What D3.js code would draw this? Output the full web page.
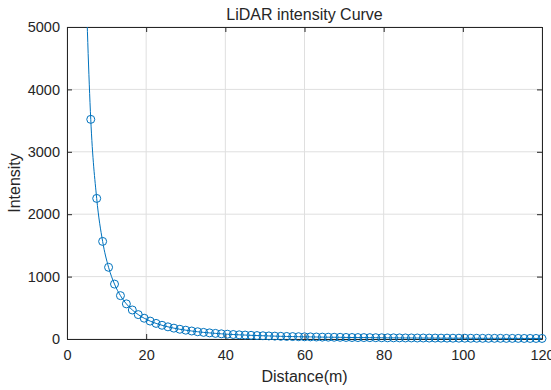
<!DOCTYPE html>
<html>
<head>
<meta charset="utf-8">
<script src="https://cdn.jsdelivr.net/npm/d3@7"></script>
<style>
  body { margin: 0; background: #fff; }
  text { font-family: 'Liberation Sans', Arial, sans-serif; fill: #262626; }
</style>
</head>
<body>
<div id="chart"></div>
<script>
// sample points (m) and intensity
const distances = [6, 7.5, 9, 10.5, 12, 13.5, 15, 16.5, 18, 19.5, 21, 22.5, 24, 25.5, 27, 28.5,
  30, 31.5, 33, 34.5, 36, 37.5, 39, 40.5, 42, 43.5, 45, 46.5, 48, 49.5, 51, 52.5, 54, 55.5,
  57, 58.5, 60, 61.5, 63, 64.5, 66, 67.5, 69, 70.5, 72, 73.5, 75, 76.5, 78, 79.5, 81, 82.5,
  84, 85.5, 87, 88.5, 90, 91.5, 93, 94.5, 96, 97.5, 99, 100.5, 102, 103.5, 105, 106.5, 108,
  109.5, 111, 112.5, 114, 115.5, 117, 118.5, 120]
const intensity = [3520, 2253, 1564, 1149, 880, 695, 563, 465, 391, 333, 287, 250, 220, 195,
  174, 156, 141, 128, 116, 106, 98, 90, 83, 77, 72, 67, 63, 59, 55, 52, 49, 46, 43, 41, 39,
  37, 35, 34, 32, 30, 29, 28, 27, 25, 24, 23, 23, 22, 21, 20, 19, 19, 18, 17, 17, 16, 16,
  15, 15, 14, 14, 13, 13, 13, 12, 12, 11, 11, 11, 11, 10, 10, 10, 9, 9, 9, 9]

// the curve starts above the top of the axes
const leadDistance = [4.5]
const leadIntensity = [6258]

const xTicks = [0, 20, 40, 60, 80, 100, 120]
const yTicks = [0, 1000, 2000, 3000, 4000, 5000]

const margin = { top: 27, right: 9, bottom: 51, left: 67 }
const width = 551 - margin.left - margin.right
const height = 390 - margin.top - margin.bottom

const svg = d3.select('#chart')
  .append('svg')
  .attr('width', 551)
  .attr('height', 390)

const g = svg.append('g')
  .attr('transform', 'translate(' + margin.left + ',' + margin.top + ')')

const x = d3.scaleLinear().domain([0, 120]).range([0, width])
const y = d3.scaleLinear().domain([0, 5000]).range([height, 0])

// grid
g.append('g')
  .selectAll('line')
  .data(xTicks)
  .enter()
  .append('line')
  .attr('x1', d => x(d)).attr('x2', d => x(d))
  .attr('y1', 0).attr('y2', height)
  .attr('stroke', '#dfdfdf')

g.append('g')
  .selectAll('line')
  .data(yTicks)
  .enter()
  .append('line')
  .attr('y1', d => y(d)).attr('y2', d => y(d))
  .attr('x1', 0).attr('x2', width)
  .attr('stroke', '#dfdfdf')

// axes, ticks pointing inward on all four sides
const tickLen = 5
const axisStyle = sel => {
  sel.select('.domain').attr('stroke', '#262626')
  sel.selectAll('.tick line').attr('stroke', '#262626')
  sel.selectAll('.tick text')
    .style('font-family', "'Liberation Sans', Arial, sans-serif")
    .style('font-size', '14.5px')
    .attr('fill', '#262626')
}

g.append('g')
  .attr('transform', 'translate(0,' + height + ')')
  .call(d3.axisBottom(x).tickValues(xTicks).tickSize(-tickLen).tickSizeOuter(0).tickPadding(11))
  .call(axisStyle)

g.append('g')
  .call(d3.axisLeft(y).tickValues(yTicks).tickFormat(d3.format('d'))
    .tickSize(-tickLen).tickSizeOuter(0).tickPadding(7))
  .call(axisStyle)

g.append('g')
  .call(d3.axisTop(x).tickValues(xTicks).tickSize(-tickLen).tickSizeOuter(0).tickFormat(''))
  .call(axisStyle)

g.append('g')
  .attr('transform', 'translate(' + width + ',0)')
  .call(d3.axisRight(y).tickValues(yTicks).tickSize(-tickLen).tickSizeOuter(0).tickFormat(''))
  .call(axisStyle)

// data
g.append('clipPath')
  .attr('id', 'plot-clip')
  .append('rect')
  .attr('x', -6).attr('y', 0)
  .attr('width', width + 12).attr('height', height + 6)

const linePoints = leadDistance.map((d, i) => [d, leadIntensity[i]])
  .concat(distances.map((d, i) => [d, intensity[i]]))

const line = d3.line()
  .x(d => x(d[0]))
  .y(d => y(d[1]))
  .curve(d3.curveMonotoneX)

g.append('path')
  .datum(linePoints)
  .attr('clip-path', 'url(#plot-clip)')
  .attr('d', line)
  .attr('fill', 'none')
  .attr('stroke', '#0072BD')
  .attr('stroke-width', 1)

g.append('g')
  .attr('clip-path', 'url(#plot-clip)')
  .selectAll('circle')
  .data(distances)
  .enter()
  .append('circle')
  .attr('cx', d => x(d))
  .attr('cy', (d, i) => y(intensity[i]))
  .attr('r', 4)
  .attr('fill', 'none')
  .attr('stroke', '#0072BD')
  .attr('stroke-width', 1)

// labels
svg.append('text')
  .attr('x', margin.left + width / 2)
  .attr('y', 20)
  .attr('text-anchor', 'middle')
  .style('font-size', '16px')
  .text('LiDAR intensity Curve')

svg.append('text')
  .attr('x', margin.left + width / 2)
  .attr('y', 382)
  .attr('text-anchor', 'middle')
  .style('font-size', '16px')
  .text('Distance(m)')

svg.append('text')
  .attr('transform', 'translate(20,' + (margin.top + height / 2) + ') rotate(-90)')
  .attr('text-anchor', 'middle')
  .style('font-size', '16px')
  .text('Intensity')
</script>
</body>
</html>
